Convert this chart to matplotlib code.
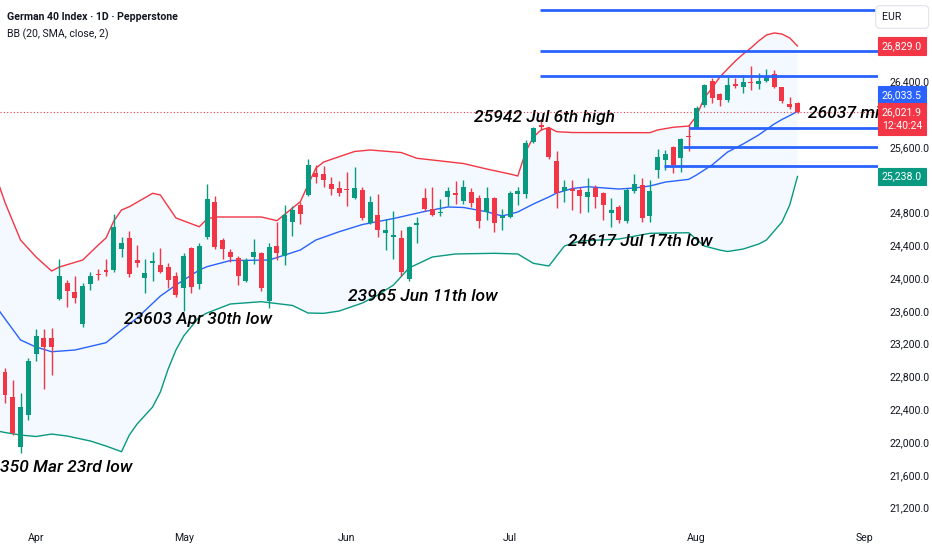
import matplotlib
matplotlib.use("Agg")
import matplotlib.pyplot as plt
import numpy as np

# ---------------- data (bar index 0 .. 102, daily) ----------------
opens = [22857,22552,21942,22329,23073,23272,23264,23744,23942,23833,
         23435,23927,24049,24097,24097,24353,24484,24216,23996,24179,
         24158,24130,24024,23874,24362,23927,24496,24923,24463,24313,
         24247,23967,24260,24308,23723,24394,24268,24686,24890,25012,
         25284,25264,25146,25094,25081,24972,25073,24667,24768,24552,
         24503,24484,23984,24646,24979,24838,24789,24991,25033,24939,
         25049,24972,24808,24972,24735,24747,25024,25020,25662,25866,
         25825,25430,25061,25081,25073,24984,25094,25033,24796,24869,
         24699,25061,25130,24756,25317,25439,25594,25460,25731,25825,
         26110,26406,26240,26170,26366,26333,26390,26362,26406,26488,
         26325,26118,26138]
highs = [22900,22756,22594,23024,23374,23374,23394,24231,23975,24024,
         23935,24077,24110,24228,24780,24503,24577,24402,24228,24320,
         24362,24183,24077,24308,24381,24423,25142,25000,24484,24353,
         24268,24240,24472,24320,24423,24686,24890,24878,24930,25447,
         25378,25366,25235,25186,25296,25350,25113,25000,25024,24719,
         24817,24585,24634,24747,25094,25113,24960,25106,25186,25195,
         25094,25012,25110,24988,24838,25061,25113,25683,25845,25942,
         25845,25552,25195,25195,25106,25216,25134,25052,24972,24890,
         25094,25268,25216,25195,25569,25561,25610,25711,25866,26097,
         26366,26435,26259,26447,26435,26475,26585,26496,26545,26536,
         26333,26203,26146]
lows = [22479,22090,21860,22268,22991,22642,22817,23731,23642,23691,
        23406,23853,23975,24028,24077,24260,24008,24130,23813,23967,
        24057,23874,23764,23603,23813,23862,24472,24350,24231,24199,
        23914,23955,24167,23845,23630,24219,24158,24512,24658,25000,
        25155,25106,25012,25000,24878,24960,24707,24658,24503,24341,
        24228,24024,23965,24423,24820,24756,24756,24878,24902,24902,
        24862,24606,24707,24564,24585,24728,24890,24972,25642,25805,
        25447,24850,24930,24829,24789,24808,24850,24707,24617,24667,
        24674,25033,24686,24686,25216,25317,25284,25296,25552,25813,
        26089,26130,26097,26150,26313,26252,26292,26301,26394,26313,
        26138,26057,26016]
closes = [22573,22106,22423,22991,23296,23162,23162,24024,23845,23752,
          23906,24028,24036,24069,24618,24423,24045,24186,24057,24207,
          24077,23975,23789,24268,23886,24394,24960,24381,24357,24260,
          24024,24219,24313,23874,24381,24301,24768,24829,24780,25378,
          25228,25195,25085,25033,25073,25094,24728,24930,24585,24585,
          24524,24069,24618,24667,24838,24768,24808,25061,25012,25113,
          24911,24699,24972,24667,24756,25033,25061,25642,25825,25838,
          25479,25033,25106,25064,25000,25045,24984,24890,24829,24707,
          25073,25146,24728,25064,25472,25512,25378,25695,25723,26077,
          26353,26191,26170,26353,26341,26386,26381,26406,26455,26325,
          26158,26089,26022]

# Bollinger Bands (20, SMA, close, 2) at bar indices
bb_up_idx = [-1,0,2,4,6,7,10,12,13,14,15,16,19,20,22,25,26,27,33,35,38,39,40,41,43,45,47,
             51,53,59,62,65,66,67,68,69,70,71,73,83,84,86,88,89,90,91,92,93,94,95,96,97,
             98,99,100,101,102]
bb_up = [25195,24921,24463,24256,24085,24134,24219,24402,24488,24695,24830,24869,25033,
         25012,24732,24625,24719,24744,24744,24699,24930,25134,25338,25414,25479,25543,
         25561,25530,25460,25396,25329,25268,25244,25536,25719,25805,25835,25784,25774,
         25772,25805,25838,25853,25975,26195,26317,26451,26549,26646,26731,26805,26890,
         26963,26988,26975,26927,26829]
bb_mid_idx = [-1,0,2,4,6,9,13,15,17,20,22,25,26,29,34,38,40,43,46,50,54,57,59,62,64,66,
              68,70,71,73,75,79,81,83,85,88,89,91,93,95,97,99,100,101,102]
bb_mid = [23634,23502,23244,23158,23101,23122,23211,23366,23512,23780,23914,24097,24138,
          24213,24219,24341,24463,24564,24652,24725,24811,24866,24860,24808,24756,24805,
          24902,24988,25036,25091,25113,25085,25097,25122,25170,25203,25256,25378,25536,
          25634,25744,25878,25933,25981,26033]
bb_lo_idx = [-1,0,2,4,6,8,11,13,15,16,17,19,20,21,22,23,25,26,29,33,37,39,41,43,46,48,
             49,50,52,55,58,63,66,68,70,71,72,74,79,83,88,90,92,93,95,97,98,100,101,102]
bb_lo = [22134,22116,22085,22067,22097,22073,22012,21951,21882,22085,22219,22427,22610,
         22890,23122,23293,23524,23573,23683,23711,23665,23573,23569,23597,23695,23793,
         23854,23914,24122,24256,24293,24301,24293,24179,24146,24268,24390,24451,24475,
         24545,24552,24390,24341,24323,24353,24414,24463,24683,24890,25238]

# horizontal levels drawn on the chart
level_prices = [27268, 26768, 26463, 25829, 25597, 25369]
level_start = [68.9, 68.9, 68.9, 88, 87.3, 84.8]

last_price = 26021.9
upper_last = 26829.0
mid_last = 26033.5
lower_last = 25238.0
countdown = "12:40:24"

# annotations (visible part as in the reference): (text, bar position, price)
notes = [("25942 Jul 6th high", 60.4, 25963),
         ("26037 mi", 103.3, 26010),
         ("24617 Jul 17th low", 72.5, 24439),
         ("23965 Jun 11th low", 44.1, 23780),
         ("23603 Apr 30th low", 15.3, 23488),
         ("350 Mar 23rd low", -0.6, 21695)]

month_pos = [4, 23, 44, 65, 89, 110.6]
month_lab = ["Apr", "May", "Jun", "Jul", "Aug", "Sep"]
price_ticks = [21200, 21600, 22000, 22400, 22800, 23200, 23600, 24000, 24400, 24800,
               25600, 26400]

# ---------------- style ----------------
GREEN = "#089981"
RED = "#F23645"
BLUE = "#2962FF"
TXT = "#131722"
plt.rcParams['font.family'] = ['Roboto', 'DejaVu Sans']

W, H = 932, 550
fig = plt.figure(figsize=(W / 100, H / 100), dpi=100)
ax = fig.add_axes([0, 25 / H, 878 / W, 525 / H])
ax.set_xlim(-0.644, 112.36)
ax.set_ylim(20988, 27390)
for s in ax.spines.values():
    s.set_visible(False)

# band fill
fx = np.concatenate([bb_up_idx, bb_lo_idx[::-1]])
fy = np.concatenate([bb_up, bb_lo[::-1]])
ax.fill(fx, fy, color="#2196F3", alpha=0.05, lw=0, zorder=1)
ax.plot(bb_up_idx, bb_up, color=RED, lw=1, zorder=2)
ax.plot(bb_mid_idx, bb_mid, color=BLUE, lw=1, zorder=2)
ax.plot(bb_lo_idx, bb_lo, color=GREEN, lw=1, zorder=2)

# candles
x = np.arange(len(opens))
o = np.array(opens, float); c = np.array(closes, float)
hi = np.array(highs, float); lo = np.array(lows, float)
up = c >= o
cols = np.where(up, GREEN, RED)
ax.vlines(x, lo, hi, colors=cols, lw=1, zorder=3)
bottom = np.minimum(o, c)
height = np.maximum(np.abs(c - o), 14)
ax.bar(x, height, bottom=bottom, width=0.64, color=cols, lw=0, zorder=4)

# levels
for p, s in zip(level_prices, level_start):
    ax.hlines(p, s, 112.36, color=BLUE, lw=2, zorder=5)

# last price dotted line
ax.axhline(last_price, color=RED, lw=0.8, ls=(0, (1, 2)), zorder=2)

# annotations
for t, xi, p in notes:
    ax.text(xi, p, t, ha="left", va="center", fontsize=12.5, style="italic",
            fontweight="medium", color="black", clip_on=True, zorder=6)

# axes ticks
ax.yaxis.tick_right()
ax.set_yticks(price_ticks)
ax.set_yticklabels([f"{v:,.1f}" for v in price_ticks])
ax.tick_params(axis="y", length=0, pad=8, labelsize=7.6, labelcolor=TXT)
ax.set_xticks(month_pos)
ax.set_xticklabels(month_lab)
ax.tick_params(axis="x", length=0, pad=6, labelsize=7.6, labelcolor=TXT)

# price-scale badges (placed at pixel rows of the reference scale)
def badge(ypix, text, fc, tc="white", ec=None, style="square,pad=0.35"):
    ax.annotate(text, xy=(1, 1 - ypix / 525), xycoords="axes fraction",
                xytext=(4, 0), textcoords="offset pixels", ha="left", va="center",
                fontsize=7.6, color=tc, annotation_clip=False, zorder=10,
                linespacing=1.5,
                bbox=dict(boxstyle=style, fc=fc, ec=ec or fc, lw=0.8))

badge(17, "EUR        ", "white", TXT, "#E0E3EB", "round,pad=0.6,rounding_size=0.4")
badge(46, f"{upper_last:,.1f}", RED)
badge(95, f"{mid_last:,.1f}", BLUE)
badge(119, f"{last_price:,.1f}\n{countdown}", RED)
badge(176.5, f"{lower_last:,.1f}", GREEN)

# header
fig.text(7 / W, 1 - 17 / H, "German 40 Index · 1D · Pepperstone", fontsize=7.6,
         fontweight="bold", color=TXT, va="center")
fig.text(7 / W, 1 - 34 / H, "BB (20, SMA, close, 2)", fontsize=7.6, color=TXT,
         va="center")

fig.savefig("out.png", dpi=100)
